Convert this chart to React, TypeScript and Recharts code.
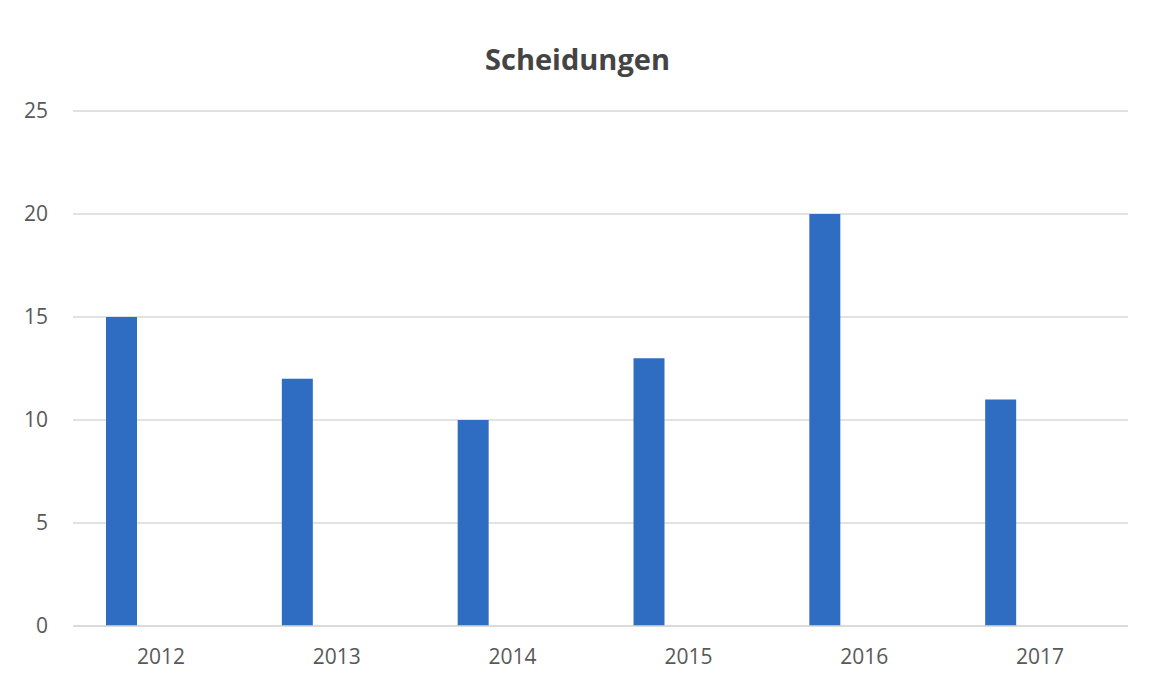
import { BarChart, Bar, XAxis, YAxis, CartesianGrid } from "recharts"

const years = ["2012", "2013", "2014", "2015", "2016", "2017"]
const divorces = [15, 12, 10, 13, 20, 11]
// the source chart keeps an empty second series slot next to every bar
const emptySeries = [null, null, null, null, null, null]
const yTicks = [0, 5, 10, 15, 20, 25]

const data = years.map((year, i) => ({
  year,
  scheidungen: divorces[i],
  leer: emptySeries[i],
}))

const FONT = "'Open Sans', 'Noto Sans', sans-serif"

export default function App() {
  return (
    <div
      style={{
        position: "absolute",
        left: 0,
        top: 0,
        width: 1155,
        height: 685,
        background: "#ffffff",
        fontFamily: FONT,
      }}
    >
      <div
        style={{
          position: "absolute",
          left: 0,
          width: 1155,
          top: 39,
          textAlign: "center",
          fontSize: 29,
          fontWeight: 700,
          color: "#444444",
          lineHeight: "40px",
        }}
      >
        Scheidungen
      </div>
      <BarChart
        width={1155}
        height={685}
        data={data}
        margin={{ top: 111, right: 27, bottom: 19, left: 0 }}
        barSize={31}
        barGap={48}
      >
        <CartesianGrid vertical={false} stroke="#d9d9d9" strokeWidth={1.5} />
        <XAxis
          dataKey="year"
          height={40}
          tickLine={false}
          axisLine={{ stroke: "#d9d9d9", strokeWidth: 1.5 }}
          tickSize={0}
          tickMargin={23}
          tick={{ fill: "#595959", fontSize: 21, fontFamily: FONT }}
        />
        <YAxis
          width={73}
          domain={[0, 25]}
          ticks={yTicks}
          axisLine={false}
          tickLine={false}
          tickSize={0}
          tickMargin={25}
          tick={{ fill: "#595959", fontSize: 21, fontFamily: FONT }}
        />
        <Bar dataKey="scheidungen" fill="#2e6dc2" isAnimationActive={false} />
        <Bar dataKey="leer" fill="#ed7d31" isAnimationActive={false} />
      </BarChart>
    </div>
  )
}
